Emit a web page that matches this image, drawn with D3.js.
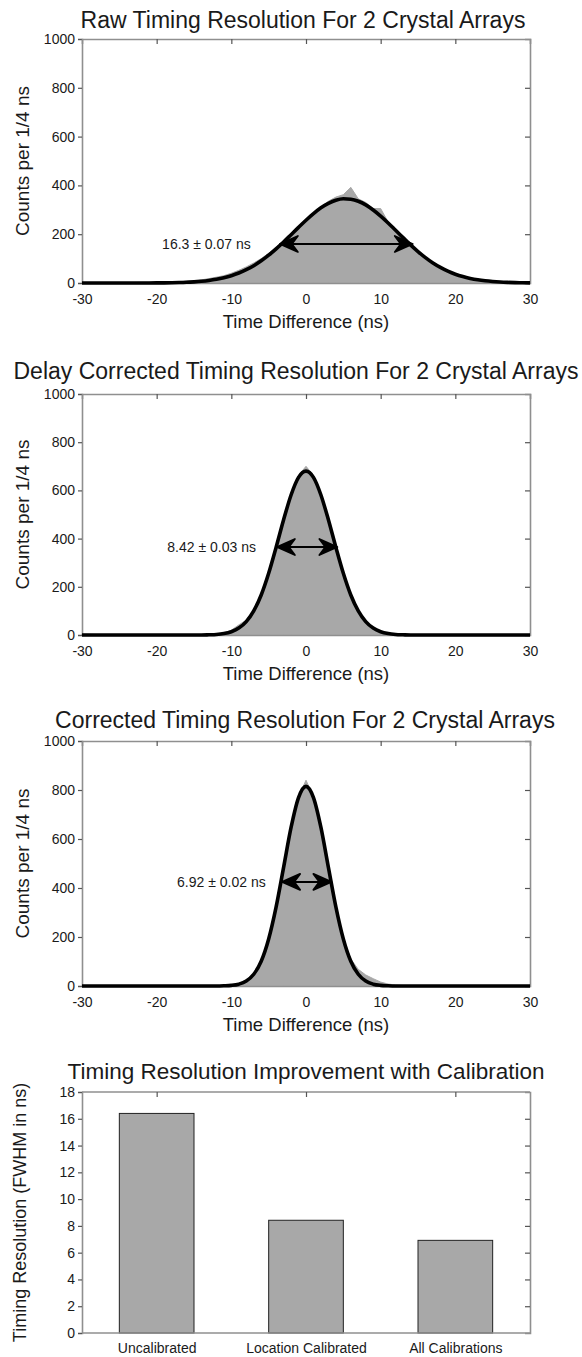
<!DOCTYPE html>
<html>
<head>
<meta charset="utf-8">
<script src="https://cdn.jsdelivr.net/npm/d3@7"></script>
<style>
  body { margin: 0; background: #fff; }
  svg text { font-family: "Liberation Sans", Arial, Helvetica, sans-serif; fill: #1a1a1a; }
</style>
</head>
<body>
<svg id="chart" width="582" height="1357"></svg>
<script>
'use strict';

// ---- data ----
const timeTicks = [-30, -20, -10, 0, 10, 20, 30];
const countTicks = [0, 200, 400, 600, 800, 1000];
const binCenters = d3.range(-30, 31); // 1 ns sampling of the histograms

// Raw (uncorrected) histogram and gaussian fit
const rawCounts = [0, 1, 1, 1, 2, 1, 2, 2, 3, 3,
  4, 4, 5, 6, 8, 10, 13, 18, 24, 30,
  40, 52, 66, 82, 100, 122, 148, 172, 200, 226,
  258, 285, 312, 335, 352, 362, 392, 345, 330, 305,
  305, 250, 218, 186, 160, 130, 106, 84, 66, 50,
  38, 28, 20, 14, 10, 7, 5, 3, 2, 1, 1];
const rawFit = [0, 0, 0, 0, 0, 0, 0, 0, 0.1, 0.2,
  0.4, 0.7, 1.2, 1.9, 3, 4.7, 7, 10.4, 15.2, 21.6,
  30, 40.8, 54.4, 71, 91, 114, 140, 168, 198, 228,
  257, 284, 308, 326, 339, 345, 343, 335, 320, 299,
  274, 246, 216, 186, 156, 129, 104, 82, 64, 48.6,
  36, 26.2, 18.7, 13, 8.9, 6, 3.9, 2.5, 1.6, 1, 0.6];

// Delay corrected
const delayCounts = [4, 3, 2, 2, 1, 1, 2, 1, 1, 1,
  1, 1, 1, 1, 1, 1, 2, 3, 5, 9,
  20, 42, 62, 104, 170, 258, 362, 478, 590, 662,
  700, 662, 580, 470, 358, 250, 166, 102, 58, 32,
  16, 8, 4, 2, 1, 1, 1, 1, 1, 1,
  1, 1, 1, 1, 1, 1, 1, 1, 1, 1, 1];
const delayFit = [0, 0, 0, 0, 0, 0, 0, 0, 0, 0,
  0, 0, 0, 0, 0, 0, 0, 1, 2.4, 6,
  13.6, 28.6, 55.6, 100, 166, 256, 364, 478, 581, 654,
  680, 654, 581, 478, 364, 256, 166, 100, 55.6, 28.6,
  13.6, 6, 2.4, 1, 0, 0, 0, 0, 0, 0,
  0, 0, 0, 0, 0, 0, 0, 0, 0, 0, 0];

// Fully corrected
const corrCounts = [1, 1, 1, 1, 1, 2, 1, 1, 1, 1,
  1, 1, 1, 1, 1, 1, 1, 1, 1, 2,
  4, 10, 24, 52, 104, 192, 320, 480, 648, 772,
  840, 772, 645, 480, 322, 194, 110, 68, 45, 30,
  16, 8, 4, 2, 1, 1, 1, 1, 1, 1,
  1, 1, 1, 1, 2, 1, 1, 1, 1, 1, 1];
const corrFit = [0, 0, 0, 0, 0, 0, 0, 0, 0, 0,
  0, 0, 0, 0, 0, 0, 0, 0, 0, 0.8,
  2.5, 7.5, 20, 47.8, 101, 192, 323, 484, 647, 769,
  815, 769, 647, 484, 323, 192, 101, 47.8, 20, 7.5,
  2.5, 0.8, 0, 0, 0, 0, 0, 0, 0, 0,
  0, 0, 0, 0, 0, 0, 0, 0, 0, 0, 0];

// FWHM arrows: [label, left end, right end, height, label end]
const rawFwhm = ["16.3 \u00b1 0.07 ns", -3.5, 14.3, 160, -7.4];
const delayFwhm = ["8.42 \u00b1 0.03 ns", -3.9, 4.2, 365, -6.7];
const corrFwhm = ["6.92 \u00b1 0.02 ns", -3.2, 3.4, 425, -5.4];

// Bar chart
const calibNames = ["Uncalibrated", "Location Calibrated", "All Calibrations"];
const calibFwhm = [16.4, 8.42, 6.92];
const fwhmTicks = [0, 2, 4, 6, 8, 10, 12, 14, 16, 18];

// ---- drawing ----
const svg = d3.select("#chart");
const LEFT = 82, RIGHT = 530;
const BOX = "#8f8f8f";
const HIST = "#a8a8a8";
const plain = d => String(d); // "-30" et "1000", sans signe moins unicode ni virgule

/**
 * Styler les axes (gris pour le cadre)
 */
function styler(axes) {
    axes.forEach(a => {
        a.select(".domain").attr("stroke", BOX).attr("stroke-width", 1.6);
        a.selectAll(".tick line").attr("stroke", "#555").attr("stroke-width", 1.2);
        a.selectAll("text").style("font-size", "14px").attr("fill", "#1a1a1a");
    });
}

/**
 * Dessiner la boite (axes gris) d'un panneau
 */
function dessinerBoite(g, x, y, yTicks, xTicks) {
    const top = y.range()[1], bottom = y.range()[0];

    // gauche : graduations vers l'exterieur
    const gl = g.append("g").attr("transform", `translate(${LEFT},0)`)
        .call(d3.axisLeft(y).tickValues(yTicks).tickSize(4).tickPadding(3).tickFormat(plain));
    // droite : graduations vers l'interieur
    const gr = g.append("g").attr("transform", `translate(${RIGHT},0)`)
        .call(d3.axisRight(y).tickValues(yTicks.slice(1, -1)).tickSize(-5).tickFormat(""));
    // haut : graduations vers le bas
    const gt = g.append("g").attr("transform", `translate(0,${top})`)
        .call(d3.axisTop(x).tickValues(xTicks.slice(1, -1)).tickSize(-5).tickFormat(""));
    // bas
    const gb = g.append("g").attr("transform", `translate(0,${bottom})`)
        .call(d3.axisBottom(x).tickValues(xTicks).tickSize(0).tickPadding(11).tickFormat(plain));

    styler([gl, gr, gt, gb]);
}

/**
 * Dessiner une fleche double au niveau de la largeur a mi-hauteur
 */
function dessinerFleche(g, x, y, fwhm) {
    const [label, x1, x2, h, tx] = fwhm;
    const yy = y(h), xa = x(x1), xb = x(x2);
    g.append("line")
        .attr("x1", xa + 5).attr("x2", xb - 5)
        .attr("y1", yy).attr("y2", yy)
        .attr("stroke", "#000").attr("stroke-width", 2);
    const tete = (px, dir) => {
        const L = 18, W = 8, N = 12;
        return `M${px},${yy} L${px + dir * L},${yy - W} L${px + dir * N},${yy} L${px + dir * L},${yy + W} Z`;
    };
    [[xa, 1], [xb, -1]].forEach(([px, dir]) => {
        g.append("path").attr("d", tete(px, dir)).attr("fill", "#000")
            .attr("stroke", "#000").attr("stroke-width", 1.8).attr("stroke-linejoin", "round");
    });
    g.append("text")
        .attr("x", x(tx)).attr("y", yy + 5)
        .attr("text-anchor", "end")
        .style("font-size", "14px")
        .text(label);
}

/**
 * Dessiner un panneau histogramme + ajustement gaussien
 */
function dessinerHisto(p) {
    const g = svg.append("g");
    const x = d3.scaleLinear().domain([-30, 30]).range([LEFT, RIGHT]);
    const y = d3.scaleLinear().domain([0, 1000]).range([p.bottom, p.top]);

    const aire = d3.area()
        .x((d, i) => x(binCenters[i]))
        .y0(y(0))
        .y1(d => y(d))
        .curve(d3.curveLinear);
    g.append("path").datum(p.counts)
        .attr("d", aire)
        .attr("fill", HIST)
        .attr("stroke", HIST).attr("stroke-width", 1);

    dessinerBoite(g, x, y, countTicks, timeTicks);

    const ligne = d3.line()
        .x((d, i) => x(binCenters[i]))
        .y(d => y(d))
        .curve(d3.curveMonotoneX);
    g.append("path").datum(p.fit)
        .attr("d", ligne)
        .attr("fill", "none")
        .attr("stroke", "#000")
        .attr("stroke-width", 3.6)
        .attr("stroke-linejoin", "round");

    dessinerFleche(g, x, y, p.fwhm);

    g.append("text")
        .attr("x", p.titleX).attr("y", p.titleY)
        .attr("text-anchor", "middle")
        .style("font-size", "23px")
        .text(p.title);
    g.append("text")
        .attr("x", (LEFT + RIGHT) / 2).attr("y", p.bottom + 45)
        .attr("text-anchor", "middle")
        .style("font-size", "18.5px")
        .text("Time Difference (ns)");
    g.append("text")
        .attr("transform", `translate(29,${(p.top + p.bottom) / 2}) rotate(-90)`)
        .attr("text-anchor", "middle")
        .style("font-size", "19px")
        .text("Counts per 1/4 ns");
}

dessinerHisto({title: "Raw Timing Resolution For 2 Crystal Arrays", titleX: 303, titleY: 28,
    top: 39, bottom: 283, counts: rawCounts, fit: rawFit, fwhm: rawFwhm});
dessinerHisto({title: "Delay Corrected Timing Resolution For 2 Crystal Arrays", titleX: 296, titleY: 379,
    top: 394, bottom: 635, counts: delayCounts, fit: delayFit, fwhm: delayFwhm});
dessinerHisto({title: "Corrected Timing Resolution For 2 Crystal Arrays", titleX: 305, titleY: 728,
    top: 741, bottom: 986, counts: corrCounts, fit: corrFit, fwhm: corrFwhm});

// ---- bar chart ----
(function dessinerBarres() {
    const g = svg.append("g");
    const top = 1092, bottom = 1333;
    const x = d3.scaleBand().domain(calibNames).range([LEFT, RIGHT])
        .paddingInner(0.5).paddingOuter(0.25);
    const y = d3.scaleLinear().domain([0, 18]).range([bottom, top]);

    g.selectAll("rect").data(calibFwhm).join("rect")
        .attr("x", (d, i) => x(calibNames[i]))
        .attr("y", d => y(d))
        .attr("width", x.bandwidth())
        .attr("height", d => y(0) - y(d))
        .attr("fill", HIST)
        .attr("stroke", "#222").attr("stroke-width", 1);

    // centres des barres pour les graduations
    const xc = d3.scalePoint().domain(calibNames).range([x(calibNames[0]) + x.bandwidth() / 2,
        x(calibNames[2]) + x.bandwidth() / 2]);

    const gl = g.append("g").attr("transform", `translate(${LEFT},0)`)
        .call(d3.axisLeft(y).tickValues(fwhmTicks).tickSize(4).tickPadding(3).tickFormat(plain));
    const gr = g.append("g").attr("transform", `translate(${RIGHT},0)`)
        .call(d3.axisRight(y).tickValues(fwhmTicks.slice(1, -1)).tickSize(-5).tickFormat(""));
    const gt = g.append("g").attr("transform", `translate(0,${top})`)
        .call(d3.axisTop(xc).tickSize(-5).tickFormat(""));
    const gb = g.append("g").attr("transform", `translate(0,${bottom})`)
        .call(d3.axisBottom(xc).tickSize(0).tickPadding(10));
    styler([gl, gr, gt, gb]);
    gt.select(".domain").attr("d", `M${LEFT},0H${RIGHT}`);
    gb.select(".domain").attr("d", `M${LEFT},0H${RIGHT}`);

    g.append("text")
        .attr("x", 306).attr("y", 1079)
        .attr("text-anchor", "middle")
        .style("font-size", "22.5px")
        .text("Timing Resolution Improvement with Calibration");
    g.append("text")
        .attr("transform", `translate(26,${(top + bottom) / 2}) rotate(-90)`)
        .attr("text-anchor", "middle")
        .style("font-size", "18px")
        .text("Timing Resolution (FWHM in ns)");
})();
</script>
</body>
</html>
